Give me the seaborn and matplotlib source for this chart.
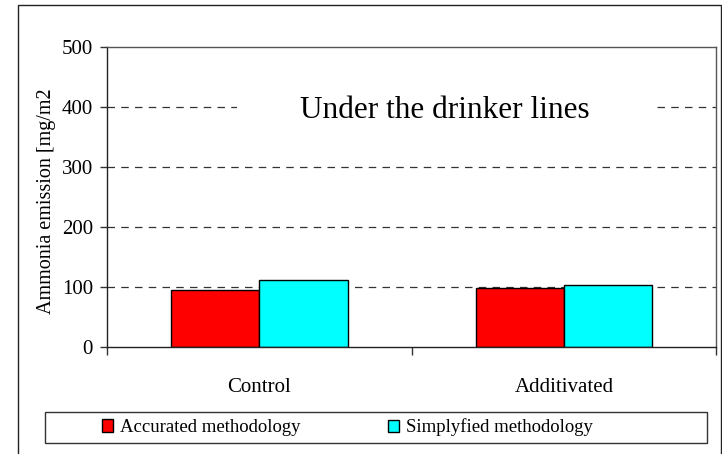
import pandas as pd
import matplotlib.pyplot as plt
import seaborn as sns
from matplotlib.patches import Rectangle
from matplotlib.transforms import blended_transform_factory

# Du lieu doc tu bieu do goc
categories = ['Control', 'Additivated']
methods = ['Accurated methodology', 'Simplyfied methodology']
accurated = [95, 98]
simplyfied = [112, 103]
yticks = [0, 100, 200, 300, 400, 500]
colors = ['#ff0000', '#00ffff']

df = pd.DataFrame({
    'category': categories * 2,
    'method': [methods[0]] * 2 + [methods[1]] * 2,
    'value': accurated + simplyfied,
})

sns.set_style('white')
plt.rcParams['font.family'] = ['Liberation Serif', 'DejaVu Serif']
plt.rcParams['text.color'] = 'black'
plt.rcParams['axes.labelcolor'] = 'black'
plt.rcParams['xtick.color'] = 'black'
plt.rcParams['ytick.color'] = 'black'

fig = plt.figure(figsize=(7.22, 4.54), dpi=100)
ax = fig.add_axes([0.148, 0.2357, 0.844, 0.6608])

sns.barplot(data=df, x='category', y='value', hue='method',
            palette=colors, edgecolor='black', linewidth=1,
            width=0.58, saturation=1, ax=ax, legend=True, zorder=2)

ax.set_ylim(0, 500)
ax.set_xlim(-0.5, 1.5)
ax.set_yticks(yticks)
ax.set_yticklabels([str(v) for v in yticks], fontsize=15)
for v in yticks[1:-1]:
    ax.axhline(v, color='#333333', linestyle=(0, (6, 5)), linewidth=0.9, zorder=0)

# Cat duong luoi 400 sau dong chu
trans = blended_transform_factory(ax.transAxes, ax.transData)
ax.add_patch(Rectangle((0.2135, 390), 0.683, 20, transform=trans,
                       facecolor='white', edgecolor='none', zorder=0.5))
ax.text(0.555, 382, 'Under the drinker lines', ha='center', va='baseline',
        fontsize=22.5, transform=trans, zorder=3)

ax.set_xticks([0, 1])
ax.set_xticklabels(categories, fontsize=15)
ax.tick_params(axis='x', which='major', length=0, pad=22)
ax.set_xticks([-0.5, 0.5, 1.5], minor=True)
ax.tick_params(axis='x', which='minor', bottom=True, length=6,
               direction='out', color='#333333', width=1)
ax.tick_params(axis='y', left=True, length=5, direction='out',
               color='#333333', width=1, pad=5)
ax.set_xlabel('')
ax.set_ylabel('Ammonia emission [mg/m2', fontsize=14.5)
ax.yaxis.set_label_coords(-0.084, 0.485)

for side in ['left', 'bottom']:
    ax.spines[side].set_color('#222222')
    ax.spines[side].set_linewidth(1)
for side in ['top', 'right']:
    ax.spines[side].set_color('#555555')
    ax.spines[side].set_linewidth(1)

# Chu giai o duoi, khung rieng
handles, labels = ax.get_legend_handles_labels()
ax.legend_.remove()
for h, lab, x0 in zip(handles, labels, [102 / 722, 388 / 722]):
    fig.legend([h], [lab], loc='center left', bbox_to_anchor=(x0, 0.0584),
               fontsize=13.5, frameon=False, handlelength=0.6,
               handleheight=0.65, handletextpad=0.35, borderpad=0,
               borderaxespad=0)
fig.patches.append(Rectangle((45 / 722, 11 / 454), 662 / 722, 31 / 454,
                             transform=fig.transFigure, fill=False,
                             edgecolor='#333333', linewidth=1))

# Khung ngoai cua hinh
fig.patches.append(Rectangle((18 / 722, -0.05), (721 - 18) / 722, 1 - 5 / 454 + 0.05,
                             transform=fig.transFigure, fill=False,
                             edgecolor='#222222', linewidth=1))

plt.savefig('out.png', dpi=100)
